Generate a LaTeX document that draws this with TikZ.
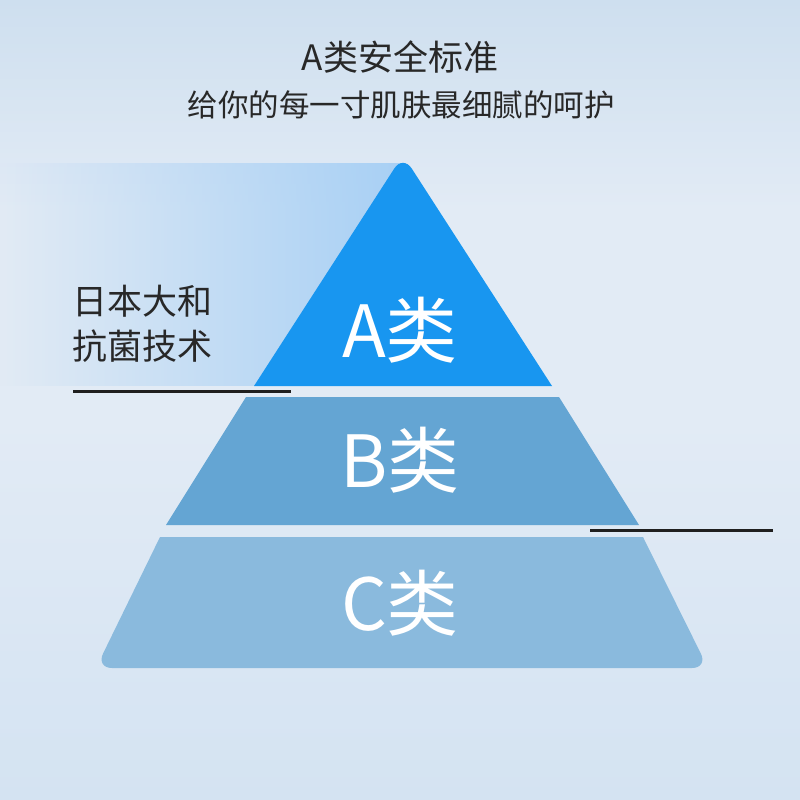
\documentclass[tikz,border=0pt]{standalone}
\usepackage{fontspec}
\usetikzlibrary{fadings}
\setmainfont{Noto Sans CJK SC}
\newfontfamily\cjk{Noto Sans CJK SC}
\definecolor{bgtop}{RGB}{206,223,239}
\definecolor{bgmid}{RGB}{226,235,245}
\definecolor{bgbot}{RGB}{212,227,242}
\definecolor{glow}{RGB}{168,208,244}
\definecolor{tierA}{RGB}{24,150,240}
\definecolor{tierB}{RGB}{100,165,211}
\definecolor{tierC}{RGB}{138,186,221}
\definecolor{ink}{RGB}{40,40,40}
\tikzset{
  tierlabel/.style={text=white, font=\cjk\fontsize{72}{72}\selectfont, inner sep=0pt},
  sidelabel/.style={text=ink, font=\cjk\fontsize{35}{45}\selectfont, align=left, inner sep=0pt},
  rule/.style={line width=3pt, draw=black!88}
}
\begin{document}
\begin{tikzpicture}[x=1pt,y=-1pt]
\useasboundingbox (0,0) rectangle (800,800);
% background
\shade[top color=bgtop, bottom color=bgmid, middle color=bgmid] (0,0) rectangle (800,420);
\shade[top color=bgmid, bottom color=bgbot] (0,420) rectangle (800,800);
% glow behind top tier
\fill[glow, path fading=west] (0,163) rectangle (403,386);
% tiers
\fill[tierA] (254,386) [rounded corners=16pt] -- (403,155) [sharp corners] -- (552,386) -- cycle;
\fill[tierB] (246,397) -- (559,397) -- (639,525) -- (166,525) -- cycle;
\fill[tierC] (160,537) -- (643,537) [rounded corners=16pt] -- (708,668) -- (96,668) [sharp corners] -- cycle;
% labels
\node[tierlabel] (la) at (400,330) {A类};
\node[tierlabel] (lb) at (400,460) {B类};
\node[tierlabel] (lc) at (400,603) {C类};
\node[font=\cjk\fontsize{35}{35}\selectfont, text=ink, inner sep=0pt] (title) at (400,57) {A类安全标准};
\node[font=\cjk\fontsize{30.5}{30.5}\selectfont, text=ink, inner sep=0pt] (sub) at (401,105) {给你的每一寸肌肤最细腻的呵护};
\node[sidelabel, anchor=west] (side) at (72,324) {日本大和\\抗菌技术};
% rules
\coordinate (r1a) at (73,391);
\coordinate (r1b) at (291,391);
\coordinate (r2a) at (590,530);
\coordinate (r2b) at (773,530);
\draw[rule] (r1a) -- (r1b);
\draw[rule] (r2a) -- (r2b);
\end{tikzpicture}
\end{document}
